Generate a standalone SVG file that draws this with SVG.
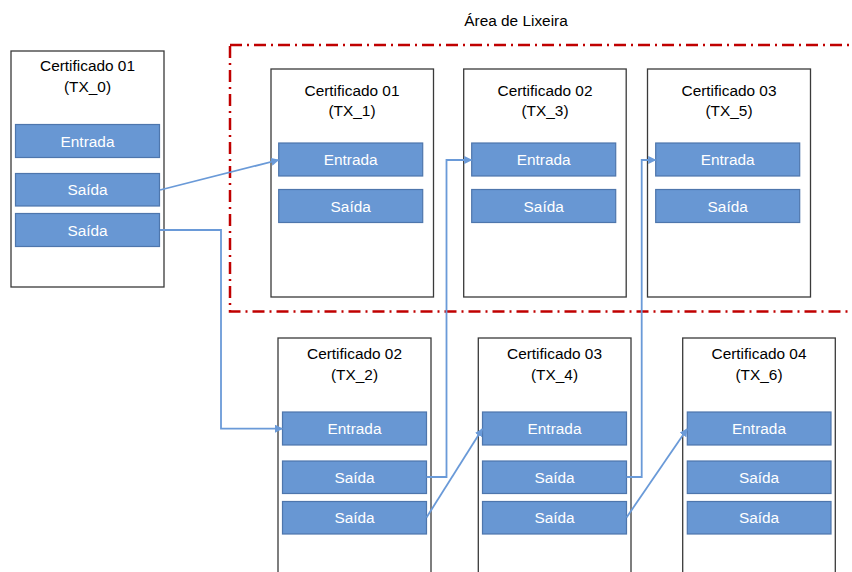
<svg xmlns="http://www.w3.org/2000/svg" width="852" height="572" viewBox="0 0 852 572">
<style>
text{font-family:"Liberation Sans",Arial,sans-serif;font-size:15.4px;text-anchor:middle}
.cert{fill:#fff;stroke:#3a3a3a;stroke-width:1.3}
.port{fill:#6897D3;stroke:#4E76AC;stroke-width:1.2}
.pt{fill:#fff}
.t{fill:#000}
.c{fill:none;stroke:#6A9AD8;stroke-width:1.8}
</style>
<defs>
<marker id="ah" viewBox="0 0 10 10" refX="9" refY="5" markerWidth="4.5" markerHeight="4.5" orient="auto" markerUnits="strokeWidth">
<path d="M0,0 L10,5 L0,10 z" fill="#6A9AD8"/>
</marker>
</defs>
<rect width="852" height="572" fill="#fff"/>
<g id="lixeira">
<rect x="230" y="45" width="640" height="266.5" fill="none" stroke="#C00000" stroke-width="2.5" stroke-dasharray="12 5 2 5"/>
<text class="t" x="516" y="26">Área de Lixeira</text>
</g>
<g id="tx0">
<rect class="cert" x="11" y="51" width="153" height="236"/>
<text class="t" x="87.5" y="71">Certificado 01</text>
<text class="t" x="87.5" y="91.5">(TX_0)</text>
<rect class="port" x="15.5" y="124.5" width="144" height="33"/>
<text class="pt" x="87.5" y="146.5">Entrada</text>
<rect class="port" x="15.5" y="173.5" width="144" height="32.5"/>
<text class="pt" x="87.5" y="195">Saída</text>
<rect class="port" x="15.5" y="213.5" width="144" height="33"/>
<text class="pt" x="87.5" y="235.5">Saída</text>
</g>
<g id="tx1">
<rect class="cert" x="271" y="69" width="162.5" height="228"/>
<text class="t" x="352" y="95.5">Certificado 01</text>
<text class="t" x="352" y="116">(TX_1)</text>
<rect class="port" x="278.7" y="143" width="144" height="33"/>
<text class="pt" x="350.7" y="165">Entrada</text>
<rect class="port" x="278.7" y="189.5" width="144" height="33"/>
<text class="pt" x="350.7" y="211.5">Saída</text>
</g>
<g id="tx3">
<rect class="cert" x="463.7" y="69" width="162.5" height="228"/>
<text class="t" x="545" y="95.5">Certificado 02</text>
<text class="t" x="545" y="116">(TX_3)</text>
<rect class="port" x="471.7" y="143" width="144" height="33"/>
<text class="pt" x="543.7" y="165">Entrada</text>
<rect class="port" x="471.7" y="189.5" width="144" height="33"/>
<text class="pt" x="543.7" y="211.5">Saída</text>
</g>
<g id="tx5">
<rect class="cert" x="647.5" y="69" width="163" height="228"/>
<text class="t" x="729" y="95.5">Certificado 03</text>
<text class="t" x="729" y="116">(TX_5)</text>
<rect class="port" x="655.7" y="143" width="144" height="33"/>
<text class="pt" x="727.7" y="165">Entrada</text>
<rect class="port" x="655.7" y="189.5" width="144" height="33"/>
<text class="pt" x="727.7" y="211.5">Saída</text>
</g>
<g id="tx2">
<rect class="cert" x="278" y="338" width="153" height="240"/>
<text class="t" x="354.5" y="359">Certificado 02</text>
<text class="t" x="354.5" y="379.5">(TX_2)</text>
<rect class="port" x="282.5" y="412" width="144" height="33"/>
<text class="pt" x="354.5" y="434">Entrada</text>
<rect class="port" x="282.5" y="461" width="144" height="32.5"/>
<text class="pt" x="354.5" y="482.5">Saída</text>
<rect class="port" x="282.5" y="501.5" width="144" height="32.5"/>
<text class="pt" x="354.5" y="523">Saída</text>
</g>
<g id="tx4">
<rect class="cert" x="478.3" y="338" width="152.7" height="240"/>
<text class="t" x="554.5" y="359">Certificado 03</text>
<text class="t" x="554.5" y="379.5">(TX_4)</text>
<rect class="port" x="482.5" y="412" width="144" height="33"/>
<text class="pt" x="554.5" y="434">Entrada</text>
<rect class="port" x="482.5" y="461" width="144" height="32.5"/>
<text class="pt" x="554.5" y="482.5">Saída</text>
<rect class="port" x="482.5" y="501.5" width="144" height="32.5"/>
<text class="pt" x="554.5" y="523">Saída</text>
</g>
<g id="tx6">
<rect class="cert" x="682.7" y="338" width="152.6" height="240"/>
<text class="t" x="759" y="359">Certificado 04</text>
<text class="t" x="759" y="379.5">(TX_6)</text>
<rect class="port" x="687.3" y="412" width="143.7" height="33"/>
<text class="pt" x="759" y="434">Entrada</text>
<rect class="port" x="687.3" y="461" width="143.7" height="32.5"/>
<text class="pt" x="759" y="482.5">Saída</text>
<rect class="port" x="687.3" y="501.5" width="143.7" height="32.5"/>
<text class="pt" x="759" y="523">Saída</text>
</g>
<g id="connectors">
<path class="c" d="M160,190 L278.5,160" marker-end="url(#ah)"/>
<path class="c" d="M160,230 H221 V428.7 H282.3" marker-end="url(#ah)"/>
<path class="c" d="M426.5,477 H446.5 V160 H471.5" marker-end="url(#ah)"/>
<path class="c" d="M426.5,517.5 L482.3,429" marker-end="url(#ah)"/>
<path class="c" d="M626.5,477 H641.7 V160 H655.5" marker-end="url(#ah)"/>
<path class="c" d="M626.5,517.5 L687.1,429" marker-end="url(#ah)"/>
</g>
</svg>
